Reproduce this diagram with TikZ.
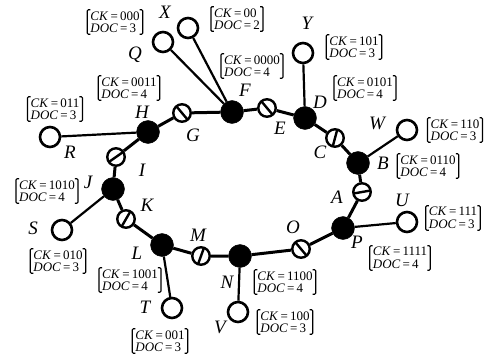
\documentclass[tikz,border=0pt]{standalone}
\usepackage{fontspec}
\setmainfont{Liberation Serif}
\usepackage{tikz}
\usetikzlibrary{positioning}

% CK / DOC pair, two lines
\newcommand{\ckdoc}[2]{\textit{CK}\,=\,#1\\\textit{DOC}\,=\,#2}

\begin{document}
\begin{tikzpicture}[
    x=1pt, y=-1pt,
    % cluster heads (filled)
    hub/.style={circle, draw=black, fill=black, minimum size=23pt, inner sep=0pt},
    % end nodes (open)
    leaf/.style={circle, draw=black, line width=2.6pt, fill=white,
                 minimum size=20pt, inner sep=0pt},
    % relay nodes (open, with a bar at angle #1)
    relay/.style={circle, draw=black, line width=2.4pt, fill=white,
                  minimum size=17.5pt, inner sep=0pt,
                  path picture={\draw[line width=2.4pt]
                     (path picture bounding box.center) ++(#1:9pt) -- ++(#1+180:18pt);}},
    ring/.style={line width=3pt},
    spoke/.style={line width=2.2pt},
    tag/.style={font=\fontsize{19}{19}\selectfont\itshape, inner sep=0pt},
    % bracketed code boxes
    info/.style={font=\fontsize{13}{12.5}\selectfont, align=left,
                 inner xsep=3pt, inner ysep=1.5pt,
                 append after command={\pgfextra{
                   \draw[line width=1.2pt, rounded corners=1.2pt]
                     ([xshift=3pt]\tikzlastnode.north west) -- (\tikzlastnode.north west)
                     -- (\tikzlastnode.south west) -- ([xshift=3pt]\tikzlastnode.south west)
                     ([xshift=-3pt]\tikzlastnode.north east) -- (\tikzlastnode.north east)
                     -- (\tikzlastnode.south east) -- ([xshift=-3pt]\tikzlastnode.south east);}}}
]
\useasboundingbox (0,0) rectangle (486,358);

%-------- CLUSTER HEADS --------
\node[hub] (F) at (232,112) {};
\node[hub] (D) at (305,118) {};
\node[hub] (B) at (358,163) {};
\node[hub] (P) at (343,228) {};
\node[hub] (N) at (240,256) {};
\node[hub] (L) at (162,245) {};
\node[hub] (J) at (113,189) {};
\node[hub] (H) at (148,132) {};

%-------- RELAYS --------
\node[relay=130] (G) at (182,113) {};
\node[relay=130] (E) at (267,108) {};
\node[relay=75]  (C) at (335,138) {};
\node[relay=10]  (A) at (362,192) {};
\node[relay=130] (O) at (301,249) {};
\node[relay=70]  (M) at (201,256) {};
\node[relay=60]  (K) at (126,219) {};
\node[relay=35]  (I) at (116,157) {};

%-------- END NODES --------
\node[leaf] (Q) at (163,42)  {};
\node[leaf] (X) at (188,28)  {};
\node[leaf] (Y) at (303,53)  {};
\node[leaf] (W) at (407,130) {};
\node[leaf] (U) at (407,222) {};
\node[leaf] (V) at (238,312) {};
\node[leaf] (T) at (172,308) {};
\node[leaf] (S) at (62,230)  {};
\node[leaf] (R) at (50,137)  {};

%-------- LINKS --------
\draw[ring] (F) -- (E) -- (D) -- (C) -- (B) -- (A) -- (P) -- (O) -- (N)
            -- (M) -- (L) -- (K) -- (J) -- (I) -- (H) -- (G) -- (F);
\draw[spoke] (Q) -- (F);
\draw[spoke] (X) -- (F);
\draw[spoke] (Y) -- (D);
\draw[spoke] (W) -- (B);
\draw[spoke] (U) -- (P);
\draw[spoke] (V) -- (N);
\draw[spoke] (T) -- (L);
\draw[spoke] (S) -- (J);
\draw[spoke] (R) -- (H);

%-------- LETTERS --------
\node[tag] (tX) at (165,12)  {X};
\node[tag] (tQ) at (135,55)  {Q};
\node[tag] (tF) at (245,90)  {F};
\node[tag] (tH) at (142,112) {H};
\node[tag] (tG) at (193,135) {G};
\node[tag] (tR) at (70,152)  {R};
\node[tag] (tI) at (142,170) {I};
\node[tag] (tJ) at (88,182)  {J};
\node[tag] (tK) at (147,205) {K};
\node[tag] (tS) at (33,228)  {S};
\node[tag] (tL) at (137,253) {L};
\node[tag] (tM) at (198,235) {M};
\node[tag] (tN) at (227,282) {N};
\node[tag] (tT) at (145,307) {T};
\node[tag] (tV) at (220,327) {V};
\node[tag] (tO) at (293,227) {O};
\node[tag] (tP) at (357,242) {P};
\node[tag] (tA) at (337,197) {A};
\node[tag] (tU) at (402,200) {U};
\node[tag] (tB) at (383,163) {B};
\node[tag] (tC) at (320,152) {C};
\node[tag] (tW) at (377,123) {W};
\node[tag] (tD) at (320,102) {D};
\node[tag] (tE) at (280,128) {E};
\node[tag] (tY) at (307,23)  {Y};

%-------- CODES --------
\node[info] (c000)  at (115,22)  {\ckdoc{000}{3}};
\node[info] (c00)   at (237,19)  {\ckdoc{00}{2}};
\node[info] (c0000) at (252,66)  {\ckdoc{0000}{4}};
\node[info] (c0011) at (129,88)  {\ckdoc{0011}{4}};
\node[info] (c011)  at (55,109)  {\ckdoc{011}{3}};
\node[info] (c101)  at (354,47)  {\ckdoc{101}{3}};
\node[info] (c0101) at (365,88)  {\ckdoc{0101}{4}};
\node[info] (c110)  at (455,130) {\ckdoc{110}{3}};
\node[info] (c0110) at (428,166) {\ckdoc{0110}{4}};
\node[info] (c111)  at (453,218) {\ckdoc{111}{3}};
\node[info] (c1111) at (400,258) {\ckdoc{1111}{4}};
\node[info] (c1100) at (285,282) {\ckdoc{1100}{4}};
\node[info] (c100)  at (285,322) {\ckdoc{100}{3}};
\node[info] (c1010) at (47,191)  {\ckdoc{1010}{4}};
\node[info] (c010)  at (58,261)  {\ckdoc{010}{3}};
\node[info] (c1001) at (130,280) {\ckdoc{1001}{4}};
\node[info] (c001)  at (160,341) {\ckdoc{001}{3}};

\end{tikzpicture}
\end{document}
